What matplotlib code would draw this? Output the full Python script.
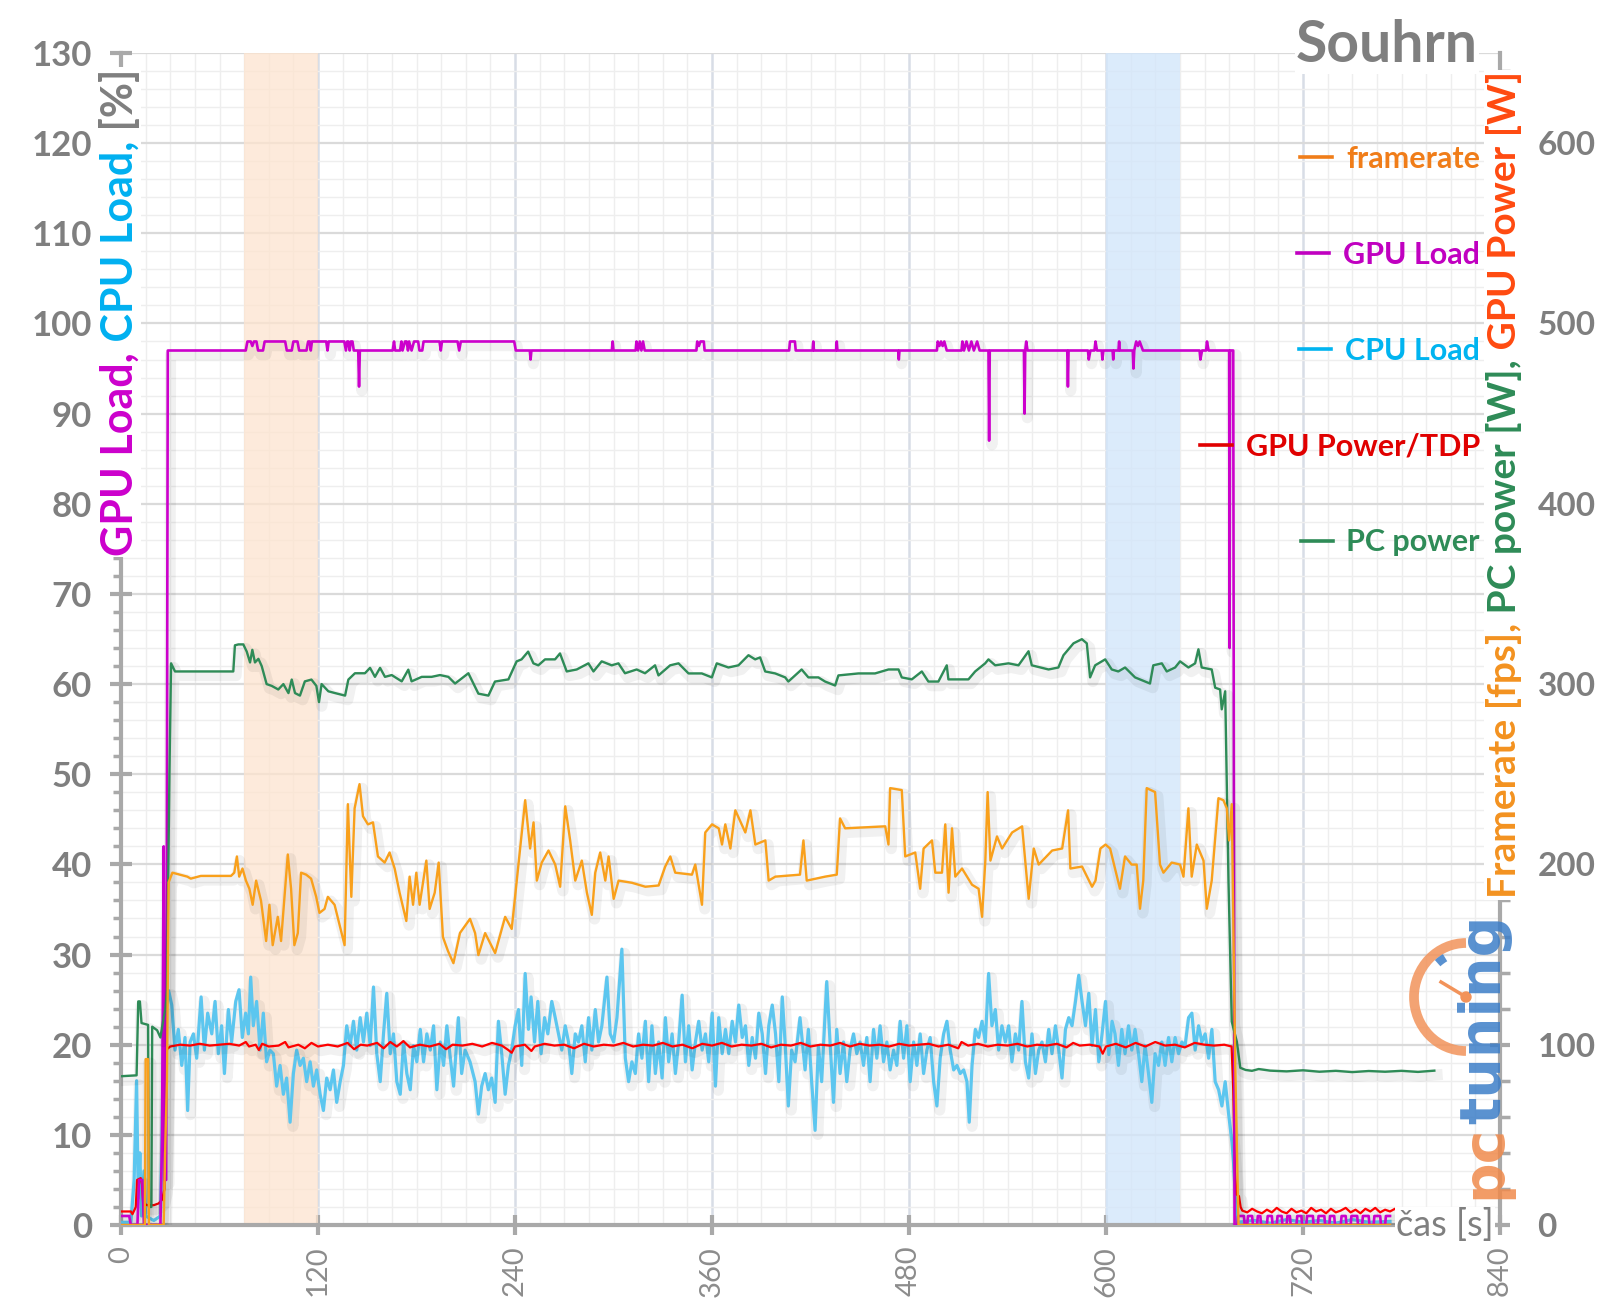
import numpy as np
import matplotlib
matplotlib.use('Agg')
import matplotlib.pyplot as plt
import matplotlib.patheffects as pe
from matplotlib.lines import Line2D
from matplotlib.patches import Arc, Circle
from matplotlib.transforms import IdentityTransform

plt.rcParams['font.family'] = ['Lato', 'DejaVu Sans']

# ---- data: (time [s], value) ----
# GPU Load [%]
gpu_load = [(0, 1), (5, 1), (6, 0), (10, 0), (11, 5), (13, 5), (14, 0), (24, 0), (25, 10), (26, 42), (26.5, 5),
            (27.5, 5), (28.5, 97), (76, 97), (77, 98), (79, 98), (80, 97.5), (81, 98), (82.5, 98), (83.5, 97),
            (86.5, 97), (87.5, 98), (100, 98), (101, 97), (104, 97), (105, 98), (107.5, 98), (108.5, 97),
            (113, 97), (114, 98), (115, 98), (115.6, 97), (116.3, 98), (125, 98), (125.8, 97), (126.5, 98),
            (136, 98), (137, 97), (137.8, 98), (138.5, 98), (139.3, 97), (140, 98), (141, 98), (141.8, 97),
            (144.5, 97), (145, 93), (145.5, 97), (165.5, 97), (166.3, 98), (167, 97), (170, 97), (170.8, 98),
            (171.5, 97), (173, 98), (174, 98), (174.8, 97), (175.5, 98), (177, 97), (178.5, 98), (181, 98),
            (181.8, 97), (183.5, 97), (184.3, 98), (194, 98), (194.8, 97), (195.5, 98), (205, 98), (206, 97),
            (207, 98), (239.5, 98), (240.5, 97), (249, 97), (249.5, 96), (250, 97), (299, 97), (299.5, 98),
            (300, 97), (313.5, 97), (314, 98), (315, 97), (316, 98), (317, 97), (318, 98), (319, 97),
            (350.5, 97), (351, 98), (352, 97.5), (353, 98), (355, 98), (355.5, 97), (407, 97), (407.5, 98),
            (410.5, 98), (411, 97), (421.3, 97), (421.7, 98), (422.1, 97), (435.6, 97), (436, 98), (436.4, 97),
            (473.4, 97), (473.8, 96), (474.2, 97), (497, 97), (497.5, 98), (498.5, 97.5), (499.5, 98),
            (500.5, 97.5), (501.5, 98), (503, 97), (512, 97), (512.5, 98), (513.5, 97), (515, 98), (516.5, 97),
            (518, 98), (519.5, 97), (521.5, 98), (523, 97), (528.4, 97), (528.8, 87), (529.2, 97), (550, 97),
            (550.4, 90), (550.8, 97), (551.4, 98), (552.2, 97), (576.4, 97), (576.8, 93), (577.2, 97),
            (589, 97), (589.5, 96), (590.5, 97), (593, 97), (593.6, 98), (594.5, 97), (597.4, 97), (597.8, 96),
            (598.4, 97), (604, 97), (604.4, 96), (604.8, 97), (607.6, 97), (608, 98), (608.4, 97), (616.3, 97),
            (616.7, 95), (617.2, 97), (618.4, 98), (619.5, 97.5), (620.5, 98), (622.5, 97), (657, 97),
            (657.5, 96), (658.5, 97), (661, 97), (661.5, 98), (662.5, 97), (675, 97), (675.3, 64), (675.6, 97),
            (677.5, 97), (678.3, 0), (680, 0), (680.5, 1), (684, 1), (684.5, 0), (686, 0), (686.5, 1), (689, 1),
            (689.5, 0), (692, 0), (692.5, 1), (694, 1), (694.5, 0), (698, 0), (698.5, 1), (701, 1), (701.5, 0),
            (704, 0), (704.5, 1), (707, 1), (707.5, 0), (710, 0), (710.5, 1), (712, 1), (712.5, 0), (716, 0),
            (716.5, 1), (719, 1), (719.5, 0), (722, 0), (722.5, 1), (726, 1), (726.5, 0), (729, 0), (729.5, 1),
            (733, 1), (733.5, 0), (736, 0), (736.5, 1), (739, 1), (739.5, 0), (743, 0), (743.5, 1), (746, 1),
            (746.5, 0), (749, 0), (749.5, 1), (753, 1), (753.5, 0), (756, 0), (756.5, 1), (760, 1), (760.5, 0),
            (763, 0), (763.5, 1), (767, 1), (767.5, 0), (770, 0), (770.5, 1), (773, 1)]

# CPU Load [%]
cpu_load = [(0, 0.3), (6, 0.3), (8, 5), (9.5, 16), (10.5, 3), (11.5, 8), (12.5, 1), (14, 6), (15, 1), (20, 0.5),
            (24, 1), (25, 11), (26, 22), (27.5, 24), (29, 26), (30.9, 24.4), (32.9, 19.4), (34.9, 21.7),
            (37, 17.7), (39, 20.8), (40.6, 12.7), (42.1, 20.3), (44.1, 21.2), (46.1, 18.5), (48.8, 25.3),
            (50.8, 19.4), (52.8, 23.5), (55.3, 21.2), (57.3, 24.8), (59.3, 19.0), (61.3, 22.1), (63, 16.8),
            (65.4, 23.9), (67.4, 20.3), (69.9, 24.8), (71.9, 26.1), (73.9, 20.8), (75.9, 23.5), (77.6, 21.2),
            (79, 27.5), (80.6, 22.1), (82.6, 24.8), (84.7, 19.4), (86.7, 23.5), (88.7, 18.1), (90.7, 19.4),
            (92.8, 19.0), (94.8, 15.4), (96.9, 17.7), (98.9, 14.5), (100.9, 16.3), (103, 11.4), (105, 16.8),
            (107, 19.4), (109.1, 17.7), (111.1, 18.5), (113.1, 15.9), (115.2, 18.1), (117.2, 15.4),
            (119.2, 17.2), (121.3, 14.5), (123.3, 12.7), (125.3, 16.3), (127.4, 15.0), (129.4, 17.2),
            (131.4, 13.6), (133.5, 15.9), (135.5, 17.7), (137.5, 22.1), (139.6, 19.9), (141.6, 22.6),
            (143.6, 19.4), (145.7, 23.0), (147.7, 20.3), (149.7, 23.5), (151.8, 19.9), (153.8, 26.4),
            (155.8, 19.0), (157.9, 15.9), (159.9, 21.2), (161.9, 25.7), (164, 19.0), (166, 21.2), (168, 15.9),
            (170.1, 14.5), (172.1, 20.3), (174.1, 16.8), (176.2, 15.0), (178.2, 19.9), (180.2, 18.1),
            (182.3, 21.7), (184.3, 18.1), (186.3, 21.2), (188.4, 19.4), (190.4, 22.1), (192.4, 15.0),
            (194.5, 20.3), (196.5, 17.7), (198.5, 22.1), (200.6, 18.5), (202.6, 15.4), (205.5, 23.0),
            (207.5, 16.8), (209.6, 19.4), (212.6, 18.1), (215.7, 15.9), (217.7, 12.3), (219.7, 15.4),
            (221.8, 16.8), (223.8, 15.0), (225.8, 16.3), (227.9, 13.6), (229.9, 22.6), (231.9, 19.0),
            (234, 14.5), (236, 17.7), (238, 19.4), (240.1, 22.1), (242.1, 23.9), (244.1, 17.7), (246.2, 27.9),
            (248.2, 21.7), (249.8, 25.3), (251.9, 20.3), (253.9, 24.8), (255.9, 19.0), (258, 23.0), (260, 21.2),
            (262.4, 24.8), (264.5, 23.0), (266.5, 21.2), (268.5, 19.4), (270.6, 22.1), (272.6, 20.3),
            (274.6, 16.8), (276.7, 21.2), (278.7, 20.3), (280.7, 22.1), (282.8, 18.1), (284.8, 23.0),
            (286.8, 19.4), (288.9, 23.9), (290.9, 20.3), (292.9, 22.1), (296, 27.5), (298, 21.2), (300.1, 20.3),
            (302.1, 23.0), (305.1, 30.6), (307.2, 18.5), (309.2, 15.9), (311.2, 18.1), (313.3, 16.8),
            (315.3, 21.2), (317.3, 18.5), (319.4, 22.6), (321.4, 15.9), (323.4, 22.1), (325.5, 16.8),
            (327.5, 20.3), (329.6, 16.3), (331.6, 23.0), (333.6, 18.1), (335.7, 21.2), (337.7, 16.8),
            (339.7, 20.3), (341.8, 25.5), (343.8, 18.1), (345.8, 22.1), (347.9, 17.2), (349.9, 20.3),
            (351.9, 22.6), (354, 19.4), (356, 21.2), (358, 18.1), (360.1, 23.5), (362.1, 15.4), (364.1, 23.0),
            (366.2, 19.0), (368.2, 21.7), (370.2, 19.0), (372.3, 22.6), (374.3, 20.3), (376.3, 24.4),
            (378.4, 20.8), (380.4, 22.1), (382.4, 17.7), (384.5, 20.8), (386.5, 18.5), (388.5, 23.5),
            (390.6, 21.2), (392.6, 16.8), (394.6, 22.1), (396.7, 24.4), (398.7, 21.2), (400.7, 15.9),
            (402.8, 25.3), (404.5, 20.3), (406.5, 13.2), (408.5, 19.4), (410.6, 18.1), (413.6, 23.0),
            (416.7, 17.2), (418.7, 21.7), (420.7, 15.9), (422.8, 10.5), (424.8, 19.9), (426.8, 15.9),
            (429.9, 27.0), (431.9, 20.3), (434, 13.6), (436, 21.7), (438, 16.8), (440.1, 20.3), (442.1, 15.9),
            (444.1, 19.4), (446.2, 21.2), (448.2, 19.0), (450.2, 20.3), (452.3, 17.7), (454.3, 20.8),
            (456.3, 15.9), (458.4, 21.7), (460.4, 18.5), (462.4, 22.1), (464.5, 18.1), (466.5, 20.3),
            (468.5, 17.2), (470.6, 19.4), (472.6, 17.7), (474.6, 22.6), (476.7, 18.5), (478.7, 22.1),
            (480.7, 15.9), (482.8, 20.3), (484.8, 17.7), (486.8, 21.2), (488.9, 16.8), (490.9, 19.4),
            (492.9, 20.8), (495, 15.9), (497, 13.2), (499, 18.5), (501.1, 21.2), (503.1, 22.6), (505.1, 19.4),
            (507.2, 17.2), (509.2, 17.7), (511.2, 16.8), (513.3, 17.2), (515.3, 15.9), (516.7, 11.4),
            (518.4, 17.7), (520.4, 21.7), (522.4, 20.8), (524.5, 22.6), (526.5, 20.3), (528.5, 27.9),
            (530.5, 22.1), (532.6, 23.9), (534.6, 19.4), (536.6, 22.1), (538.7, 20.3), (540.7, 22.1),
            (542.7, 18.1), (544.8, 21.2), (546.8, 19.4), (548.8, 24.8), (550.9, 18.1), (552.9, 16.3),
            (554.9, 21.2), (557, 16.8), (559, 19.4), (561, 20.3), (563.1, 18.1), (565.1, 21.7), (567.1, 19.0),
            (569.2, 22.1), (571.2, 19.4), (573.2, 16.3), (575.3, 21.7), (577.3, 23.0), (579.3, 22.1),
            (581.4, 24.8), (583.4, 27.7), (585.4, 24.8), (587.5, 22.1), (589.5, 25.7), (591.5, 19.9),
            (593.6, 23.9), (595.6, 18.1), (597.6, 21.2), (599.7, 24.8), (601.7, 18.9), (603.7, 22.6),
            (605.5, 21.2), (607.6, 17.7), (609.6, 21.7), (611.6, 19.0), (613.7, 22.1), (615.7, 19.4),
            (617.7, 21.7), (619.8, 19.0), (621.8, 15.9), (623.8, 19.9), (625.9, 16.8), (627.9, 13.6),
            (629.9, 19.0), (632, 17.7), (634, 20.3), (636, 17.7), (638.1, 20.8), (640.1, 18.1), (642.1, 20.8),
            (644.2, 19.0), (646.2, 20.3), (648.2, 19.9), (650.3, 23.0), (652.3, 23.5), (654.3, 19.4),
            (656.4, 22.1), (658.4, 20.3), (660.4, 21.2), (662.5, 18.5), (664.5, 21.7), (666.5, 15.9),
            (668.6, 15.0), (670.6, 13.2), (672.6, 15.9), (674.7, 12.3), (676.7, 9.2), (677.7, 6.9),
            (679.7, 0.3), (690, 0.5), (700, 0.2), (710, 0.6), (720, 0.3), (730, 0.5), (740, 0.2), (750, 0.6),
            (760, 0.3), (773, 0.4)]

# GPU Power/TDP [%]
gpu_power = [(0, 1.5), (6, 1.5), (7, 1.2), (9, 2), (9.8, 5), (12, 5.2), (12.8, 4.5), (13.5, 2.4), (16, 2.2),
             (20, 2.2), (23, 2.4), (25, 2.8), (26.5, 4), (27.3, 15), (28, 19.5), (30, 19.8), (36, 20.0),
             (42, 19.9), (48, 20.1), (54, 19.9), (60, 20.0), (66, 20.1), (72, 19.9), (76, 20.3), (78, 19.8),
             (82, 20.0), (84, 19.4), (86, 20.1), (90, 19.8), (96, 19.9), (100, 20.3), (102, 19.7), (108, 20.0),
             (112, 19.6), (116, 20.2), (120, 19.8), (126, 20.0), (132, 19.8), (138, 20.2), (142, 19.5),
             (146, 20.0), (150, 19.9), (156, 20.2), (160, 19.6), (164, 20.3), (168, 19.8), (172, 20.4),
             (176, 19.7), (182, 20.0), (188, 19.8), (194, 20.1), (198, 19.5), (202, 20.0), (208, 19.9),
             (214, 20.1), (220, 19.8), (226, 20.2), (232, 19.9), (236, 19.4), (238, 19.1), (240, 19.8),
             (246, 20.0), (250, 19.3), (252, 19.8), (258, 20.1), (264, 19.9), (270, 20.0), (276, 19.6),
             (282, 20.1), (288, 19.8), (294, 20.0), (300, 19.9), (306, 20.2), (312, 19.8), (318, 20.0),
             (324, 19.9), (330, 20.2), (336, 19.8), (342, 20.0), (348, 19.6), (354, 20.1), (360, 19.9),
             (366, 20.2), (372, 19.8), (378, 20.0), (384, 19.9), (390, 20.1), (396, 19.7), (402, 20.0),
             (408, 19.9), (414, 20.2), (420, 19.8), (426, 20.0), (432, 19.9), (438, 20.2), (444, 19.8),
             (450, 20.1), (456, 19.9), (462, 20.0), (468, 19.8), (474, 20.1), (480, 19.9), (486, 20.0),
             (492, 20.1), (498, 19.8), (504, 20.0), (510, 19.6), (512, 20.3), (516, 19.9), (522, 20.1),
             (528, 19.8), (534, 20.0), (540, 19.9), (546, 20.1), (552, 19.8), (558, 20.0), (564, 19.9),
             (570, 20.1), (576, 19.7), (580, 20.2), (584, 19.9), (590, 20.0), (596, 19.8), (598, 19.0),
             (600, 19.8), (606, 20.1), (612, 19.7), (618, 20.2), (624, 19.8), (630, 20.3), (636, 19.9),
             (642, 20.0), (648, 19.7), (654, 20.2), (660, 20.0), (666, 19.9), (672, 20.0), (676.5, 19.8),
             (677.5, 15), (678.5, 6), (679.5, 3.4), (681, 3.2), (682, 2), (683, 1.6), (686, 1.4), (689, 1.8),
             (692, 1.5), (695, 1.3), (698, 1.7), (701, 1.4), (704, 1.9), (707, 1.5), (710, 1.3), (713, 1.8),
             (716, 1.4), (719, 1.6), (722, 1.3), (725, 1.9), (728, 1.5), (731, 1.7), (734, 1.3), (737, 1.8),
             (740, 1.4), (743, 1.6), (746, 1.9), (749, 1.4), (752, 1.7), (755, 1.3), (758, 1.8), (761, 1.5),
             (764, 1.9), (767, 1.4), (770, 1.7), (773, 1.5), (776, 1.8), (779, 1.3), (782, 1.6), (785, 1.4),
             (788, 1.8), (791, 1.3), (794, 1.7), (797, 1.5), (800, 1.2)]

# PC power [W]
pc_power = [(0, 82.5), (9.5, 83), (10.5, 124), (11.5, 124), (12.5, 112), (16.5, 111), (17, 10), (18.5, 10),
            (19, 110), (22, 108), (24, 104), (26, 115), (27, 120), (28, 130), (29.5, 250), (30.5, 311.5),
            (32.9, 307), (68.4, 307), (69.4, 321.5), (71.5, 322), (74.5, 322), (76.6, 318), (78.6, 312),
            (80, 319), (81.6, 312), (83.7, 314), (85.7, 310), (88.7, 300), (91.8, 299), (95.8, 297), (98.9, 300),
            (102, 295), (104, 302.5), (106, 295), (109, 293.6), (112, 301.5), (116, 302.5), (119, 299),
            (120.6, 290), (122.2, 300), (126.3, 296), (130.4, 295), (136.5, 293.6), (138.5, 302.5), (142.5, 306),
            (148.6, 306), (151.7, 309), (154.7, 304), (157.8, 309), (160.8, 304), (164.9, 305), (171, 301.5),
            (175, 308), (177, 301.5), (183.2, 304), (189.2, 304), (194.3, 305), (199.4, 304), (203.5, 300.3),
            (211.6, 306), (217.7, 294.7), (223.8, 293.6), (227.8, 301.4), (236, 302.6), (241, 312.6),
            (244, 313.7), (248, 318), (251.2, 311.5), (254.2, 310.4), (258.3, 313.7), (264.4, 313.7),
            (267.4, 317), (271.5, 307), (277.6, 308.1), (284.7, 311.5), (287.8, 307), (292.8, 312.6),
            (298.9, 310.4), (303, 311.5), (307, 306), (314.1, 308.1), (319.2, 306), (325.3, 310.4),
            (327.4, 304.8), (334.5, 310.4), (339.6, 311.5), (345.7, 305.9), (353.8, 305.9), (359.9, 303.7),
            (362.9, 311.5), (370, 309.2), (376.1, 310.4), (382.2, 316), (386.3, 313.7), (389.3, 314.8),
            (392.4, 307), (398.5, 305.9), (404.6, 303.7), (406.5, 301.4), (414.6, 308.1), (418.7, 303.7),
            (424.8, 303.7), (428.9, 301.4), (435, 299.2), (437, 304.8), (449.2, 305.9), (459.3, 305.9),
            (467.5, 308.1), (473.6, 308.1), (475.6, 303.7), (481.7, 302.6), (487.8, 307), (491.8, 301.4),
            (497.9, 301.4), (503, 310.4), (504, 302.6), (516.2, 302.6), (520.3, 307), (526.4, 311.5),
            (528.4, 313.7), (532.5, 310.4), (540.6, 311.5), (546.7, 310.4), (552.8, 318.2), (554.8, 310.4),
            (565, 308.1), (571, 309.2), (574.1, 316), (580.2, 322.6), (585.3, 324.9), (588.3, 322.6),
            (590.3, 303.7), (593.4, 310.4), (599.5, 313.7), (603.5, 308.1), (607.5, 307), (611.6, 309.2),
            (617.7, 303.7), (626.8, 300.3), (628.8, 310.4), (634, 311.5), (637, 307), (642.1, 309.2),
            (645.1, 312.6), (650.2, 309.2), (654.3, 311.5), (656.3, 319.3), (658.3, 309.2), (664.4, 308.1),
            (666.5, 298), (669.5, 297), (670.5, 286), (672.6, 296), (674.6, 191), (676.6, 112.8),
            (679.7, 101.7), (681.8, 87.2), (685, 86), (688.9, 85.5), (693, 86.5), (700, 85.6), (710, 85.2),
            (720, 85.8), (730, 85), (740, 85.5), (750, 84.8), (760, 85.4), (770, 85), (780, 85.5),
            (790, 84.9), (800, 85.6)]

# framerate [fps]
framerate = [(0, 0), (14.5, 0), (15, 92), (16.5, 92), (17, 0), (26, 0), (27, 45), (28, 80), (29, 190),
             (31.3, 195.4), (40.4, 193.2), (42.5, 192.1), (48.6, 193.6), (67, 193.6), (69, 195.4),
             (70.6, 204.4), (72, 193.2), (74, 197.7), (76.1, 191), (78.2, 186.5), (80.2, 177.6), (82.3, 191),
             (85.3, 179.8), (88.4, 157.5), (90.4, 177.6), (92.4, 155.2), (95.5, 170.9), (97.5, 157.5),
             (101.6, 205.5), (103.6, 186.5), (105.6, 155.2), (107.7, 161.9), (109.7, 195.4), (112.8, 194.3),
             (115.8, 192.1), (118.9, 182), (120.9, 173.1), (124, 175.3), (126, 182), (130.1, 177.6),
             (136.2, 155.2), (138.2, 233.4), (140.3, 182), (142.3, 231.1), (145.3, 244.5), (147.4, 226.7),
             (150.4, 222.2), (153.5, 223.3), (156.5, 204.4), (160.6, 201), (163.6, 206.6), (166.7, 197.7),
             (169.7, 184.3), (173.8, 168.6), (175.8, 193.2), (177.9, 177.6), (179.9, 195.4), (181.9, 177.6),
             (186, 202.1), (188, 175.3), (191.1, 184.3), (193.5, 201), (196.1, 159.7), (199.2, 151.9),
             (202.5, 145.2), (206.5, 162), (212.6, 169.8), (215.7, 161.9), (217.7, 149.7), (221.8, 161.9),
             (227.9, 150.8), (234, 170.9), (238, 164.2), (241.1, 191), (246.2, 235.6), (249.2, 208.8),
             (251.3, 223.3), (253.3, 191), (256.3, 201), (260.4, 207.7), (264.5, 199.9), (267.5, 187.6),
             (270.6, 232.2), (273.6, 213.3), (276.7, 191), (280.7, 202.1), (283.8, 184.3), (286.8, 172),
             (288.9, 195.4), (291.9, 206.6), (295, 191), (297, 204.4), (300.1, 180.9), (303.1, 191),
             (311.2, 189.8), (319.4, 187.6), (327.5, 188.3), (331.5, 198.8), (334.6, 204.4), (337.6, 195.4),
             (347.8, 194.3), (349.8, 199.9), (353.9, 177.6), (355.9, 217.7), (360, 222.2), (364.1, 220),
             (366.1, 211), (368.1, 222.2), (371.2, 208.8), (374.2, 230), (380.3, 217.7), (383.4, 230),
             (386.4, 211), (392.5, 213.3), (394.5, 191), (398.6, 193.2), (413.6, 194.3), (415.7, 213.3),
             (417.7, 191), (428.9, 193.2), (436, 194.3), (438, 225.5), (441.1, 220), (465.5, 221.1),
             (467.5, 211), (468.5, 242.3), (475.6, 241.2), (477.7, 204.4), (483.8, 206.6), (486.8, 186.5),
             (488.9, 208.8), (494, 213.3), (496, 195.4), (500.1, 195.4), (502.1, 222.2), (504.1, 184.3),
             (506.2, 220), (508.2, 193.2), (512.3, 197.7), (518.4, 188.7), (522.4, 186.5), (524.5, 170.9),
             (526.5, 202.1), (527.9, 240.1), (529.6, 202.1), (533.6, 215.5), (536.7, 208.8), (542.8, 217.7),
             (548.9, 221.1), (552.9, 180.9), (556, 208.8), (559, 199.9), (567.2, 207.7), (573.3, 208.8),
             (576.9, 230), (578.3, 197.7), (585.4, 198.8), (591.5, 187.6), (593.6, 191), (596.6, 208.8),
             (599.7, 211), (602.5, 208.8), (605.5, 197.7), (608.5, 186.5), (611.6, 204.4), (615.6, 199.9),
             (618.7, 199.9), (620.7, 175.4), (622.7, 191), (624.8, 242.3), (629.9, 240.1), (632.9, 199.9),
             (635, 195.4), (640, 201), (645.1, 199.9), (647.2, 193.2), (650.2, 231.1), (652.2, 193.2),
             (655.3, 211), (659.4, 202.1), (661.4, 175.4), (664.4, 191), (668.5, 236.7), (671.5, 235.6),
             (673.6, 231.1), (675, 213.3), (676.6, 233.4), (678.7, 90), (680.7, 0), (773, 0)]

# highlighted intervals [s]
band_orange = (75, 120)
band_blue = (600, 645)

legend_labels = ['framerate', 'GPU Load', 'CPU Load', 'GPU Power/TDP', 'PC power']


def split(pairs):
    a = np.array(pairs, dtype=float)
    return a[:, 0], a[:, 1]


fig = plt.figure(figsize=(16, 13.13), dpi=100)
ax = fig.add_axes([121 / 1600, 1 - 1225 / 1313, 1379 / 1600, 1172 / 1313])
ax2 = ax.twinx()

GRAY = '#7f7f7f'
SPINE = '#a9a9a9'

ax.set_xlim(0, 840)
ax.set_ylim(0, 130)
ax2.set_ylim(0, 650)

ax.set_xticks(np.arange(0, 841, 120))
ax.set_xticks(np.arange(0, 841, 15), minor=True)
ax.set_yticks(np.arange(0, 131, 10))
ax.set_yticks(np.arange(0, 131, 2), minor=True)
ax2.set_yticks(np.arange(0, 601, 100))
ax2.set_yticks(np.arange(0, 651, 20), minor=True)

ax.set_axisbelow(True)
ax.grid(which='major', axis='y', color='#dadada', lw=1.6)
ax.grid(which='major', axis='x', color='#d8dde6', lw=1.8)
ax.grid(which='minor', color='#eeeeee', lw=1.0)

ax.axvspan(*band_orange, color='#fde4cf', alpha=0.75, lw=0, zorder=0.6)
ax.axvspan(*band_blue, color='#d3e6fa', alpha=0.8, lw=0, zorder=0.6)

ax.spines['top'].set_visible(False)
ax2.spines['top'].set_visible(False)
ax2.spines['left'].set_visible(False)
ax2.spines['bottom'].set_visible(False)
for s in ['left', 'bottom']:
    ax.spines[s].set_color(SPINE)
    ax.spines[s].set_linewidth(3)
ax.spines['right'].set_visible(False)
ax2.spines['right'].set_color(SPINE)
ax2.spines['right'].set_linewidth(3)

ax.tick_params(axis='y', which='major', direction='inout', length=16, width=3, color=SPINE,
               labelsize=25, labelcolor=GRAY, pad=13)
ax.tick_params(axis='y', which='minor', direction='out', length=6, width=2.5, color=SPINE)
ax.tick_params(axis='x', which='major', direction='inout', length=14, width=3, color=SPINE,
               labelsize=21, labelcolor='#8c8c8c', pad=8, labelrotation=90)
ax.tick_params(axis='x', which='minor', length=0)
ax2.tick_params(axis='y', which='major', direction='inout', length=14, width=3, color=SPINE,
                labelsize=24, labelcolor=GRAY, pad=20)
ax2.tick_params(axis='y', which='minor', direction='out', length=7, width=2.5, color=SPINE)
for lbl in ax.get_yticklabels() + ax2.get_yticklabels():
    lbl.set_fontweight('bold')

shadow = [pe.SimpleLineShadow(offset=(2, -3), shadow_color='k', alpha=0.055, linewidth=8), pe.Normal()]

t, v = split(cpu_load)
l_cpu, = ax.plot(t, v, color='#5cc6ef', lw=2.3, path_effects=shadow, zorder=3)
t, v = split(gpu_power)
l_gpw, = ax.plot(t, v, color='#ff0000', lw=1.6, path_effects=shadow, zorder=4)
t, v = split(gpu_load)
l_gpu, = ax.plot(t, v, color='#cc00cc', lw=1.9, path_effects=shadow, zorder=5)
t, v = split(pc_power)
l_pc, = ax2.plot(t, v, color='#2e8b57', lw=1.7, path_effects=shadow, zorder=3)
t, v = split(framerate)
l_fps, = ax2.plot(t, v, color='#f9a01b', lw=1.7, path_effects=shadow, zorder=4)

# legend (right-aligned entries)
leg_colors = ['#f07d19', '#c000c0', '#00b4f0', '#e00000', '#2e8b57']
handles = [Line2D([], [], color=c, lw=2.6) for c in leg_colors]
leg = ax2.legend(handles, legend_labels, loc='upper right', bbox_to_anchor=(1480 / 1600, 1 - 145 / 1313),
                 bbox_transform=fig.transFigure, frameon=False, fontsize=22, labelcolor=leg_colors,
                 handlelength=1.05, handletextpad=0.45, labelspacing=2.22, borderpad=0, borderaxespad=0)
for txt in leg.get_texts():
    txt.set_fontweight('bold')
for col in leg._legend_handle_box.get_children():
    col.align = 'right'
leg.set_zorder(10)

fig.canvas.draw()
renderer = fig.canvas.get_renderer()
H = 1313


def stacked(x, y_bottom, pieces, size, family=None, weight='bold', alpha=1.0, box=True):
    y = y_bottom
    for txt, col in pieces:
        kw = dict(transform=IdentityTransform(), rotation=90, rotation_mode='anchor', ha='left',
                  va='baseline', color=col, fontsize=size, fontweight=weight, alpha=alpha, zorder=20)
        if family:
            kw['family'] = family
        if box:
            kw['bbox'] = dict(fc='white', ec='none', pad=1)
        tt = fig.text(x, y, txt, **kw)
        y += tt.get_window_extent(renderer).height


stacked(133, H - 556, [('GPU Load,', '#cc00cc'), (' CPU Load,', '#00b0f0'), (' [%]', GRAY)], 31)
stacked(1516, H - 898, [('Framerate [fps],', '#f39220'), (' PC power [W],', '#2e8b57'),
                        (' GPU Power [W]', '#ff4a10')], 28)

fig.text(1478, H - 46, 'Souhrn', transform=IdentityTransform(), ha='right', va='center', color=GRAY,
         fontsize=41, fontweight='bold', bbox=dict(fc='white', ec='none', pad=1), zorder=20)
fig.text(1494, H - 1225, 'čas [s]', transform=IdentityTransform(), ha='right', va='center', color=GRAY,
         fontsize=26, bbox=dict(fc='white', ec='none', pad=1), zorder=20)

# pctuning logo
stacked(1500, H - 1199, [('pc', '#f08a4b'), ('tuning', '#3c7ec8')], 41, family='DejaVu Sans',
        alpha=0.85, box=False)
fig.add_artist(Arc((1466, H - 997), 104, 108, theta1=90, theta2=270, lw=7, color='#f2935a', alpha=0.85,
                   transform=IdentityTransform(), zorder=19))
fig.add_artist(Arc((1466, H - 997), 86, 90, theta1=118, theta2=130, lw=6, color='#3c7ec8', alpha=0.85,
                   transform=IdentityTransform(), zorder=19))
fig.add_artist(Line2D([1441, 1466], [H - 982, H - 997], lw=2.5, color='#f2935a',
                      transform=IdentityTransform(), zorder=19))
fig.add_artist(Circle((1466, H - 997), 5, color='#f2935a', transform=IdentityTransform(), zorder=19))

fig.savefig('out.png', dpi=100)
